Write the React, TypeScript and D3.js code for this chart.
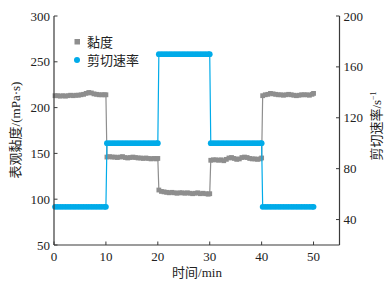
import React from "react";
import * as d3 from "d3";

const W = 389;
const H = 283;

// sampling times within each 10-min step (offsets)
const stepOffsets = [0.2, 0.7, 1.2, 1.7, 2.2, 2.7, 3.2, 3.7, 4.2, 4.7, 5.2, 5.7, 6.2, 6.7, 7.2, 7.7, 8.2, 8.7, 9.2, 9.7, 10.0];
const stepStarts = [0, 10, 20, 30, 40];
const shearLevels = [50, 100, 170, 100, 50];

const visc0 = [213, 213, 212.5, 213, 212.5, 213, 213.5, 213, 213.5, 213.5, 214, 214.5, 215.5, 216.5, 216, 215, 214.5, 214, 214, 214, 214];
const visc1 = [146, 146.5, 146, 146, 145.5, 146, 146.5, 145.5, 145, 145.5, 146, 145.5, 145, 145, 144.5, 145, 144.5, 144, 144.5, 144, 144.5];
const visc2 = [110, 108.5, 108, 107.5, 107, 107.5, 107, 106.5, 107, 107, 106.5, 107, 106.5, 106, 106.5, 107, 106, 106.5, 106, 105.5, 106];
const visc3 = [142.5, 143, 143, 142.5, 143, 142, 143.5, 145, 145.5, 144.5, 143.5, 144, 145.5, 146, 145.5, 144.5, 144, 144, 143.5, 144, 145];
const visc4 = [213, 214, 214.5, 215.5, 215, 214.5, 214, 214, 213.5, 214, 214.5, 214, 213.5, 213, 213.5, 214, 214, 214, 213.5, 214.5, 215.5];
const viscSteps = [visc0, visc1, visc2, visc3, visc4];

const xTicks = [0, 10, 20, 30, 40, 50];
const yLeftTicks = [50, 100, 150, 200, 250, 300];
const yRightTicks = [40, 80, 120, 160, 200];

const BLUE = "#00abe9";
const GRAY = "#8e8e8e";
const AXIS = "#3a3a3a";
const FONT = "'Liberation Serif', 'Noto Sans CJK SC', serif";

export default function App() {
  const x = d3.scaleLinear().domain([0, 55]).range([54, 339.5]);
  const yL = d3.scaleLinear().domain([50, 300]).range([245, 16]);
  const yR = d3.scaleLinear().domain([20, 200]).range([245, 16]);

  const visc: [number, number][] = [];
  const shear: [number, number][] = [];
  stepStarts.forEach((s, i) => {
    stepOffsets.forEach((o, j) => {
      visc.push([s + o, viscSteps[i][j]]);
      shear.push([s + o, shearLevels[i]]);
    });
  });

  const lineV = d3.line<[number, number]>().x((d) => x(d[0])).y((d) => yL(d[1]));
  const lineS = d3.line<[number, number]>().x((d) => x(d[0])).y((d) => yR(d[1]));

  const x0 = x.range()[0];
  const x1 = x.range()[1];
  const yb = yL.range()[0];
  const yt = yL.range()[1];

  return (
    <svg width={W} height={H} style={{ position: "absolute", left: 0, top: 0, background: "#fff" }} fontFamily={FONT}>
      {/* data */}
      <path d={lineV(visc) || ""} fill="none" stroke={GRAY} strokeWidth={1.2} />
      {visc.map((d, i) => (
        <rect key={"v" + i} x={x(d[0]) - 2.4} y={yL(d[1]) - 2.4} width={4.8} height={4.8} fill={GRAY} />
      ))}
      <path d={lineS(shear) || ""} fill="none" stroke={BLUE} strokeWidth={1.2} />
      {shear.map((d, i) => (
        <circle key={"s" + i} cx={x(d[0])} cy={yR(d[1])} r={2.9} fill={BLUE} />
      ))}

      {/* axes */}
      <line x1={x0} y1={yt} x2={x0} y2={yb} stroke={AXIS} strokeWidth={1.2} />
      <line x1={x1} y1={yt} x2={x1} y2={yb} stroke={AXIS} strokeWidth={1.2} />
      <line x1={x0} y1={yb} x2={x1} y2={yb} stroke={AXIS} strokeWidth={1.2} />

      {xTicks.map((t) => (
        <g key={"x" + t}>
          <line x1={x(t)} x2={x(t)} y1={yb} y2={yb - 3.5} stroke={AXIS} strokeWidth={1} />
          <text x={x(t)} y={261} textAnchor="middle" fontSize={13} fill="#222">{t}</text>
        </g>
      ))}
      {yLeftTicks.map((t) => (
        <g key={"l" + t}>
          <line x1={x0} x2={x0 + 3.5} y1={yL(t)} y2={yL(t)} stroke={AXIS} strokeWidth={1} />
          <text x={x0 - 4} y={yL(t) + 4.5} textAnchor="end" fontSize={13} fill="#222">{t}</text>
        </g>
      ))}
      {yRightTicks.map((t) => (
        <g key={"r" + t}>
          <line x1={x1} x2={x1 - 3.5} y1={yR(t)} y2={yR(t)} stroke={AXIS} strokeWidth={1} />
          <text x={x1 + 4} y={yR(t) + 4.5} textAnchor="start" fontSize={13} fill="#222">{t}</text>
        </g>
      ))}

      {/* axis titles */}
      <text x={197} y={277} textAnchor="middle" fontSize={13} fill="#222">时间/min</text>
      <text transform={`translate(20,130) rotate(-90)`} textAnchor="middle" fontSize={13} fill="#222">表观黏度/(mPa·s)</text>
      <text transform={`translate(381,126) rotate(-90)`} textAnchor="middle" fontSize={13} fill="#222">
        剪切速率/s<tspan dy={-5} fontSize={8}>−1</tspan>
      </text>

      {/* legend */}
      <rect x={74.5} y={39} width={5.5} height={5.5} fill={GRAY} />
      <text x={87} y={46.5} fontSize={13} fill="#222">黏度</text>
      <circle cx={77} cy={60} r={3} fill={BLUE} />
      <text x={87} y={64.5} fontSize={13} fill="#222">剪切速率</text>
    </svg>
  );
}
